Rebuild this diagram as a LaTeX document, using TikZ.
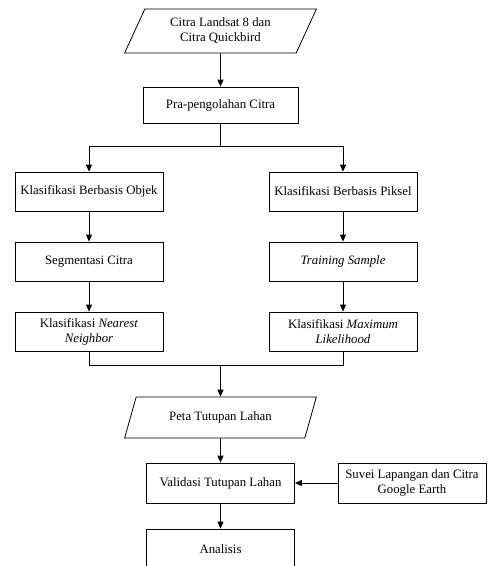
\documentclass[tikz,border=0pt]{standalone}
\usepackage{fontspec}
\setmainfont{Liberation Serif}
\usetikzlibrary{arrows.meta,positioning,shapes.geometric}

\begin{document}
\begin{tikzpicture}[x=1pt,y=-1pt,->,>={Triangle[length=7pt,width=6pt]},line width=0.8pt,on grid,
	box node/.style={rectangle,draw,align=center,minimum width=148pt,minimum height=39pt,inner sep=2pt,font=\fontsize{12.8}{15}\selectfont},
	data node/.style={trapezium,draw,align=center,trapezium left angle=65,trapezium right angle=115,trapezium stretches=true,minimum width=192pt,inner sep=2pt,font=\fontsize{12.8}{15}\selectfont}]
	
	\useasboundingbox (0,0) rectangle (488,566);
	
	\node[data node, minimum height=44pt] (1) at (220.5,31) {Citra Landsat 8 dan\\Citra Quickbird};
	\node[box node, minimum width=155pt, minimum height=36pt] (2) [below=74pt of 1] {Pra-pengolahan Citra};
	\node[box node] (3) [below left=86.5pt and 131.5pt of 2] {Klasifikasi Berbasis Objek};
	\node[box node] (4) [below right=86.5pt and 122.5pt of 2] {Klasifikasi Berbasis Piksel};
	\node[box node] (5) [below=70pt of 3] {Segmentasi Citra};
	\node[box node] (6) [below=70pt of 4] {\textit{Training Sample}};
	\node[box node] (7) [below=70pt of 5] {Klasifikasi \textit{Nearest}\\\textit{Neighbor}};
	\node[box node] (8) [below=70pt of 6] {Klasifikasi \textit{Maximum}\\\textit{Likelihood}};
	\node[data node, minimum height=41pt] (9) [below=312.5pt of 2] {Peta Tutupan Lahan};
	\node[box node, minimum height=40pt] (10) [below=65.5pt of 9] {Validasi Tutupan Lahan};
	\node[box node, minimum height=40pt] (11) [below=66pt of 10] {Analisis};
	\node[box node, minimum height=40pt] (12) [right=191.5pt of 10] {Suvei Lapangan dan Citra\\Google Earth};
	
	\coordinate[below=41pt of 2] (s);
	\coordinate[above=52.5pt of 9] (m);
	
	\path
	(1) edge (2)
	(3) edge (5)
	(5) edge (7)
	(4) edge (6)
	(6) edge (8)
	(9) edge (10)
	(10) edge (11)
	(12) edge (10);
	
	\draw (2) -- (s) -| (3);
	\draw (2) -- (s) -| (4);
	\draw[-] (7) |- (m);
	\draw[-] (8) |- (m);
	\draw (m) -- (9);
\end{tikzpicture}
\end{document}
